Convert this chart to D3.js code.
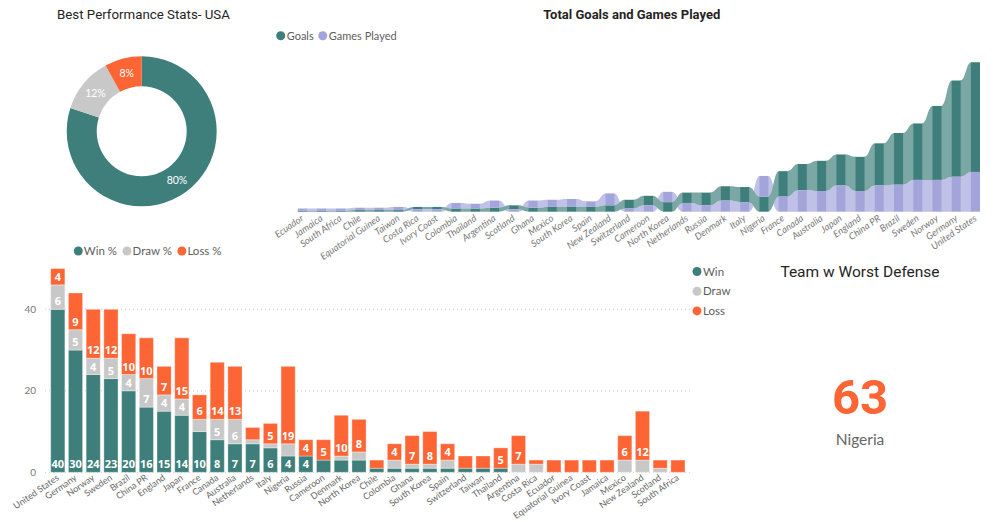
<!DOCTYPE html>
<html>
<head>
<meta charset="utf-8">
<script src="https://cdn.jsdelivr.net/npm/d3@7"></script>
<style>
  html, body { margin: 0; padding: 0; background: #fff; }
  svg { display: block; }
</style>
</head>
<body>
<svg id="chart" width="998" height="522"></svg>
<script>
// ---------------- DATA ----------------
// Donut: USA performance
const donutLabels = ["Win", "Draw", "Loss"];
const donutValues = [40, 6, 4];

// Ribbon chart: total goals and games played (sorted ascending by goals)
const ribbonCountries = ["Ecuador","Jamaica","South Africa","Chile","Equatorial Guinea","Taiwan","Costa Rica","Ivory Coast","Colombia","Thailand","Argentina","Scotland","Ghana","Mexico","South Korea","Spain","New Zealand","Switzerland","Cameroon","North Korea","Netherlands","Russia","Denmark","Italy","Nigeria","France","Canada","Australia","Japan","England","China PR","Brazil","Sweden","Norway","Germany","United States"];
const goals = [1,1,1,2,2,2,3,3,4,4,5,5,5,6,6,6,8,11,12,12,13,16,18,19,19,32,33,38,39,43,53,65,71,93,121,138];
const gamesPlayed = [3,3,3,3,3,4,3,3,7,6,9,3,9,9,10,7,15,4,8,13,11,8,14,12,26,19,27,26,33,26,33,34,40,40,44,50];
const ribbonSeries = ["Goals", "Games Played"];

// Stacked bar chart: win / draw / loss
const barCountries = ["United States","Germany","Norway","Sweden","Brazil","China PR","England","Japan","France","Canada","Australia","Netherlands","Italy","Nigeria","Russia","Cameroon","Denmark","North Korea","Chile","Colombia","Ghana","South Korea","Spain","Switzerland","Taiwan","Thailand","Argentina","Costa Rica","Ecuador","Equatorial Guinea","Ivory Coast","Jamaica","Mexico","New Zealand","Scotland","South Africa"];
const wins   = [40,30,24,23,20,16,15,14,10,8,7,7,6,4,4,3,3,3,1,1,1,1,1,1,1,1,0,0,0,0,0,0,0,0,0,0];
const draws  = [6,5,4,5,4,7,4,4,3,5,6,1,1,3,0,0,1,2,0,2,1,1,2,0,0,0,2,2,0,0,0,0,3,3,1,0];
const losses = [4,9,12,12,10,10,7,15,6,14,13,3,5,19,4,5,10,8,2,4,7,8,4,3,3,5,7,1,3,3,3,3,6,12,2,3];
const barTicks = [0, 20, 40];
const barLegendTop = ["Win %", "Draw %", "Loss %"];
const barLegendSide = ["Win", "Draw", "Loss"];

// Card
const cardTitle = "Team w Worst Defense";
const cardValue = 63;
const cardTeam = "Nigeria";

// ---------------- STYLE ----------------
const TEAL = "#3E7F7B", GRAY = "#C8C8C8", ORANGE = "#FD6535";
const TEAL_RIB = "#7BA7A4", PURPLE = "#A2A4DA", PURPLE_RIB = "#C0C1E7";
const TITLE_FONT = "Roboto, 'DejaVu Sans', sans-serif";
const LABEL_FONT = "Lato, 'Noto Sans', sans-serif";
const BOLD_FONT = "'Noto Sans', 'Open Sans', sans-serif";

const svg = d3.select("#chart");

// ---------------- DONUT ----------------
{
  svg.append("text").attr("x", 57).attr("y", 19)
    .attr("font-family", TITLE_FONT).attr("font-size", 13.3).attr("fill", "#252423")
    .text("Best Performance Stats- USA");

  const cx = 141.7, cy = 131.3;
  const g = svg.append("g").attr("transform", `translate(${cx},${cy})`);
  const pie = d3.pie().sort(null).value(d => d.v);
  const data = pie(donutLabels.map((l, i) => ({ l, v: donutValues[i] })));
  const arc = d3.arc().innerRadius(45).outerRadius(75);
  const colors = [TEAL, GRAY, ORANGE];
  const total = d3.sum(donutValues);
  g.selectAll("path").data(data).join("path")
    .attr("d", arc).attr("fill", (d, i) => colors[i]);
  g.selectAll("text").data(data).join("text")
    .attr("transform", d => `translate(${arc.centroid(d)})`)
    .attr("text-anchor", "middle").attr("dominant-baseline", "central")
    .attr("font-family", LABEL_FONT).attr("font-size", 10.5).attr("fill", "#fff")
    .text(d => Math.round(d.data.v / total * 100) + "%");
}

// ---------------- RIBBON CHART ----------------
{
  svg.append("text").attr("x", 631.7).attr("y", 19).attr("text-anchor", "middle")
    .attr("font-family", TITLE_FONT).attr("font-size", 13).attr("font-weight", "bold").attr("fill", "#252423")
    .text("Total Goals and Games Played");

  // legend
  const leg = svg.append("g");
  const legColors = [TEAL, PURPLE];
  let lx = 280.7;
  ribbonSeries.forEach((s, i) => {
    leg.append("circle").attr("cx", lx).attr("cy", 35.7).attr("r", 4.5).attr("fill", legColors[i]);
    const t = leg.append("text").attr("x", lx + 6).attr("y", 39.5)
      .attr("font-family", LABEL_FONT).attr("font-size", 11).attr("fill", "#605E5C").text(s);
    lx += 6 + t.node().getComputedTextLength() + 9;
  });

  const x = d3.scaleBand().domain(ribbonCountries).range([297.7, 980]).paddingInner(0.53).paddingOuter(0);
  const y = d3.scaleLinear().domain([0, 200]).range([211.7, 211.7 - 200 * 0.795]);
  const bw = x.bandwidth();

  // stack per column: smaller value at bottom
  const stacks = ribbonCountries.map((c, i) => {
    const vals = [goals[i], gamesPlayed[i]];
    const order = vals[0] < vals[1] ? [0, 1] : [1, 0];
    const res = [];
    let acc = 0;
    order.forEach(k => { res[k] = { y0: acc, y1: acc + vals[k] }; acc += vals[k]; });
    return res;
  });

  const ribColors = [TEAL_RIB, PURPLE_RIB];
  const colColors = [TEAL, PURPLE];
  const gR = svg.append("g");
  [1, 0].forEach(s => {
    for (let i = 0; i < ribbonCountries.length - 1; i++) {
      const a = stacks[i][s], b = stacks[i + 1][s];
      const xa = x(ribbonCountries[i]) + bw, xb = x(ribbonCountries[i + 1]);
      const xm = (xa + xb) / 2;
      const p = d3.path();
      p.moveTo(xa - 0.5, y(a.y1));
      p.bezierCurveTo(xm, y(a.y1), xm, y(b.y1), xb + 0.5, y(b.y1));
      p.lineTo(xb + 0.5, y(b.y0));
      p.bezierCurveTo(xm, y(b.y0), xm, y(a.y0), xa - 0.5, y(a.y0));
      p.closePath();
      gR.append("path").attr("d", p.toString()).attr("fill", ribColors[s]);
    }
  });
  ribbonCountries.forEach((c, i) => {
    [0, 1].forEach(s => {
      const st = stacks[i][s];
      gR.append("rect").attr("x", x(c)).attr("width", bw)
        .attr("y", y(st.y1)).attr("height", y(st.y0) - y(st.y1))
        .attr("fill", colColors[s]);
    });
  });

  // axis labels
  const gx = svg.append("g");
  ribbonCountries.forEach(c => {
    const px = x(c) + bw / 2, py = 217;
    gx.append("text").attr("transform", `translate(${px},${py}) rotate(-35)`)
      .attr("text-anchor", "end").attr("dy", "0.35em")
      .attr("font-family", LABEL_FONT).attr("font-size", 9.5).attr("font-style", "italic")
      .attr("fill", "#777").text(c);
  });
}

// ---------------- STACKED BAR CHART ----------------
{
  const keys = ["win", "draw", "loss"];
  const rows = barCountries.map((c, i) => ({ c, win: wins[i], draw: draws[i], loss: losses[i] }));
  const stack = d3.stack().keys(keys)(rows);
  const x = d3.scaleBand().domain(barCountries).range([50.7, 685]).paddingInner(0.2).paddingOuter(0);
  const y = d3.scaleLinear().domain([0, 50]).range([472.3, 472.3 - 50 * 4.075]);
  const colors = [TEAL, GRAY, ORANGE];

  // gridlines
  svg.append("g").selectAll("line").data(barTicks).join("line")
    .attr("x1", 45).attr("x2", 690)
    .attr("y1", d => y(d)).attr("y2", d => y(d))
    .attr("stroke", "#C8C8C8").attr("stroke-width", 1).attr("stroke-dasharray", "1,3");

  // y axis labels
  svg.append("g").selectAll("text").data(barTicks).join("text")
    .attr("x", 36).attr("y", d => y(d)).attr("dy", "0.35em").attr("text-anchor", "end")
    .attr("font-family", LABEL_FONT).attr("font-size", 10).attr("fill", "#777").text(d => d);

  const gb = svg.append("g");
  stack.forEach((layer, k) => {
    gb.append("g").selectAll("rect").data(layer).join("rect")
      .attr("x", d => x(d.data.c)).attr("width", x.bandwidth())
      .attr("y", d => y(d[1])).attr("height", d => y(d[0]) - y(d[1]))
      .attr("fill", colors[k]).attr("stroke", "#fff").attr("stroke-opacity", 0.35).attr("stroke-width", 1);
  });
  stack.forEach((layer, k) => {
    gb.append("g").selectAll("text").data(layer.filter(d => d[1] - d[0] >= 4)).join("text")
      .attr("x", d => x(d.data.c) + x.bandwidth() / 2).attr("y", d => y(d[0]) - 8.5)
      .attr("text-anchor", "middle").attr("dominant-baseline", "central")
      .attr("font-family", BOLD_FONT).attr("font-size", 11).attr("font-weight", "bold").attr("fill", "#fff")
      .text(d => d[1] - d[0]);
  });

  // x labels
  const gx = svg.append("g");
  barCountries.forEach(c => {
    const px = x(c) + x.bandwidth() / 2, py = 476.5;
    gx.append("text").attr("transform", `translate(${px},${py}) rotate(-35)`)
      .attr("text-anchor", "end").attr("dy", "0.35em")
      .attr("font-family", LABEL_FONT).attr("font-size", 9).attr("fill", "#666").text(c);
  });

  // top legend
  let lx = 78.3;
  barLegendTop.forEach((s, i) => {
    svg.append("circle").attr("cx", lx).attr("cy", 251).attr("r", 4.5).attr("fill", colors[i]);
    const t = svg.append("text").attr("x", lx + 5.5).attr("y", 255)
      .attr("font-family", LABEL_FONT).attr("font-size", 11.5).attr("fill", "#605E5C").text(s);
    lx += 5.5 + t.node().getComputedTextLength() + 10;
  });

  // side legend
  barLegendSide.forEach((s, i) => {
    const cy = 271.5 + i * 19.7;
    svg.append("circle").attr("cx", 697).attr("cy", cy).attr("r", 4.5).attr("fill", colors[i]);
    svg.append("text").attr("x", 703).attr("y", cy + 4)
      .attr("font-family", LABEL_FONT).attr("font-size", 11.5).attr("fill", "#605E5C").text(s);
  });
}

// ---------------- CARD ----------------
{
  svg.append("text").attr("x", 860).attr("y", 276.5).attr("text-anchor", "middle")
    .attr("font-family", TITLE_FONT).attr("font-size", 15.5).attr("fill", "#252423")
    .text(cardTitle);
  svg.append("text").attr("x", 860).attr("y", 413.5).attr("text-anchor", "middle")
    .attr("font-family", TITLE_FONT).attr("font-size", 49).attr("font-weight", "bold").attr("fill", ORANGE)
    .text(cardValue);
  svg.append("text").attr("x", 860).attr("y", 444.5).attr("text-anchor", "middle")
    .attr("font-family", LABEL_FONT).attr("font-size", 15.5).attr("fill", "#666")
    .text(cardTeam);
}
</script>
</body>
</html>
